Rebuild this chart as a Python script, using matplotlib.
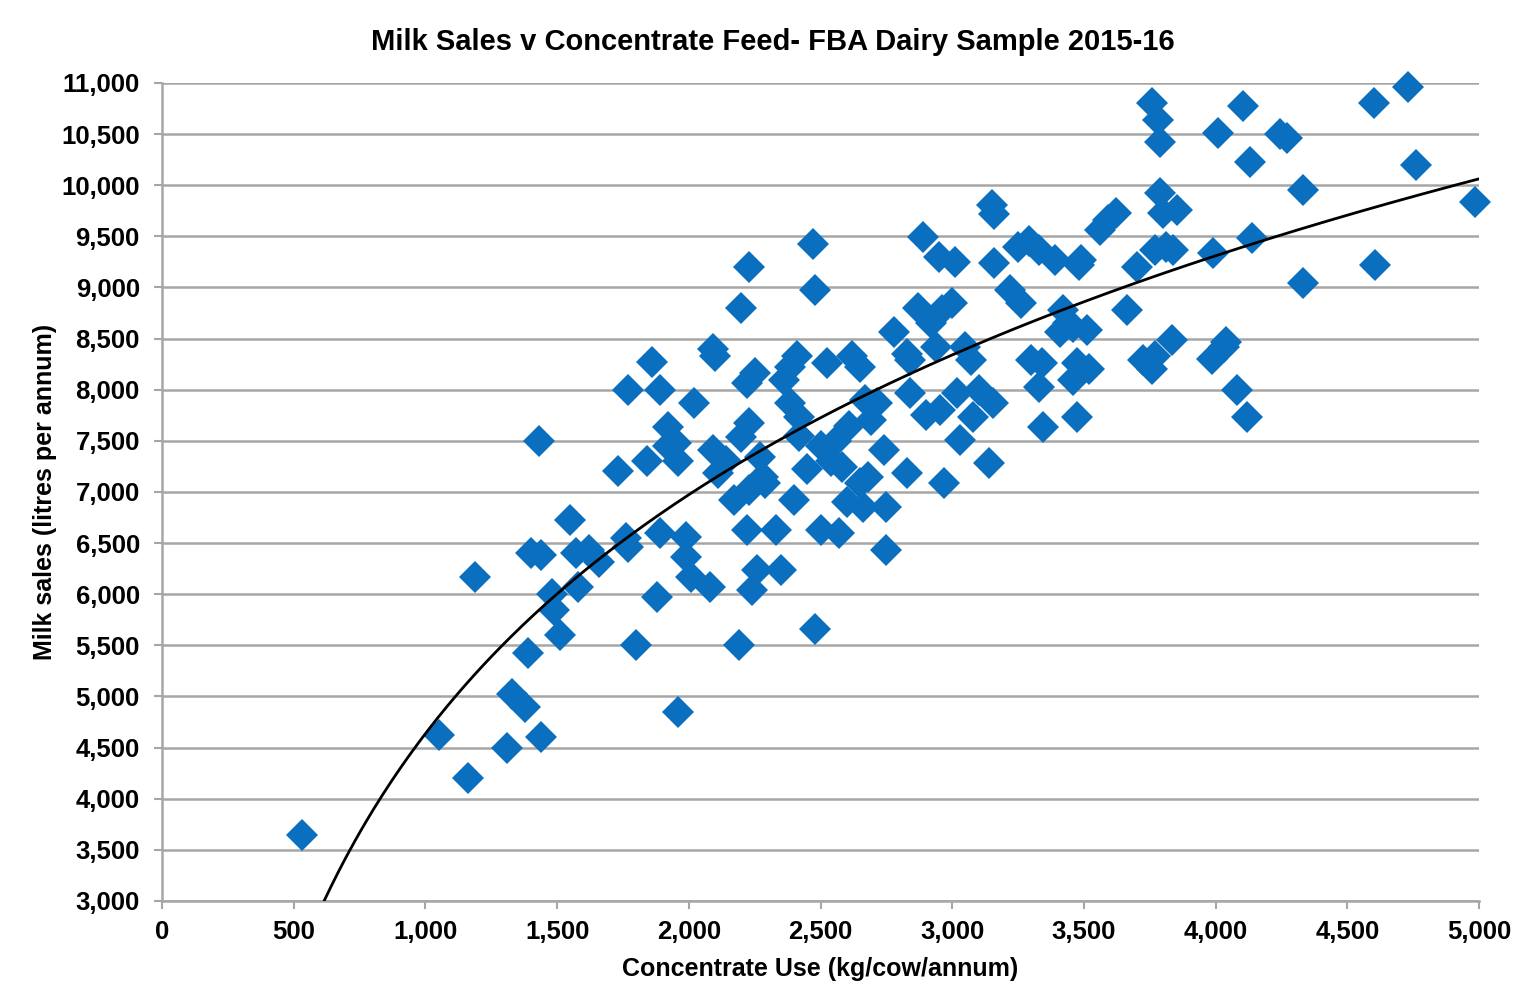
import numpy as np
import matplotlib.pyplot as plt
from matplotlib.ticker import FuncFormatter, MultipleLocator

plt.rcParams['font.family'] = ['Liberation Sans', 'DejaVu Sans']

# concentrate use (kg/cow/annum) and milk sales (litres/annum) per farm
concentrate = [
    530, 1050, 1160, 1190, 1310, 1330, 1380, 1440, 1390, 1430,
    1400, 1440, 1480, 1490, 1510, 1550, 1570, 1580, 1620, 1660,
    1730, 1760, 1770, 1770, 1800, 1840, 1860, 1880, 1890, 1890,
    1920, 1920, 1950, 1960, 1960, 1990, 1990, 2010, 2020, 2080,
    2090, 2100, 2090, 2110, 2140, 2170, 2190, 2200, 2200, 2220,
    2230, 2220, 2230, 2240, 2260, 2250, 2230, 2270, 2280, 2290,
    2330, 2350, 2360, 2385, 2385, 2400, 2410, 2420, 2420, 2470,
    2480, 2480, 2450, 2500, 2500, 2525, 2540, 2560, 2570, 2580,
    2600, 2610, 2620, 2650, 2650, 2660, 2670, 2680, 2690, 2715,
    2740, 2750, 2750, 2780, 2830, 2830, 2840, 2840, 2870, 2890,
    2900, 2920, 2940, 2950, 2955, 2970, 2960, 3000, 3010, 3020,
    3030, 3050, 3070, 3080, 3100, 3150, 3155, 3160, 3140, 3160,
    3220, 3250, 3260, 3290, 3300, 3330, 3330, 3345, 3340, 3390,
    3410, 3420, 3440, 3460, 3460, 3474, 3474, 3480, 3490, 3510,
    3520, 3560, 3590, 3620, 3665, 3700, 3725, 3760, 3760, 3770,
    3770, 3780, 3790, 3790, 3800, 3810, 3840, 3855, 3835, 3985,
    3990, 4010, 4030, 4040, 4080, 4105, 4120, 4130, 4140, 4245,
    4270, 4330, 4330, 4600, 4605, 4730, 4760, 4985,
]
milk_sales = [
    3650, 4620, 4200, 6170, 4500, 5020, 4900, 4600, 5430, 7500,
    6400, 6380, 6000, 5850, 5600, 6730, 6400, 6070, 6430, 6320,
    7210, 6550, 8000, 6460, 5500, 7300, 8270, 5970, 8000, 6600,
    7450, 7640, 7480, 4850, 7300, 6560, 6360, 6170, 7870, 6070,
    8400, 8330, 7410, 7190, 7300, 6920, 5500, 7540, 8800, 8070,
    9200, 6630, 7020, 6040, 6240, 8160, 7670, 7340, 7150, 7090,
    6630, 6240, 8100, 8220, 7870, 6920, 8330, 7730, 7550, 9430,
    8980, 5660, 7220, 7450, 6630, 8260, 7300, 7500, 6600, 7240,
    6900, 7650, 8330, 7090, 8220, 6850, 7900, 7150, 7700, 7870,
    7410, 6850, 6430, 8560, 8350, 7190, 7970, 8290, 8800, 9490,
    7750, 8650, 8420, 9300, 7800, 7090, 8780, 8850, 9250, 7970,
    7510, 8420, 8290, 7730, 8000, 9810, 7870, 9720, 7280, 9240,
    8980, 9400, 8850, 9450, 8290, 8030, 9370, 7640, 8260, 9270,
    8560, 8780, 8650, 8610, 8100, 7730, 8260, 9220, 9270, 8580,
    8200, 9560, 9660, 9730, 8780, 9200, 8290, 10800, 8200, 8330,
    9370, 10640, 10420, 9920, 9730, 9400, 9370, 9760, 8490, 8300,
    9340, 10510, 8420, 8470, 8000, 10770, 7730, 10230, 9480, 10500,
    10460, 9040, 9950, 10800, 9220, 10960, 10200, 9840,
]

x = np.array(concentrate, dtype=float)
y = np.array(milk_sales, dtype=float)

# logarithmic trendline, y = a*ln(x) + b
a, b = np.polyfit(np.log(x), y, 1)
xs = np.linspace(400, 5000, 400)
ys = a * np.log(xs) + b

fig = plt.figure(figsize=(15.21, 10.02), dpi=100)
ax = fig.add_axes([0.1065, 0.1008, 0.8659, 0.8164])

ax.plot(x, y, linestyle='none', marker='D', markersize=16.5,
        color='#0B6FC0', markeredgewidth=0, zorder=3, clip_on=False)
ax.plot(xs, ys, color='black', linewidth=2.0, zorder=4)

ax.set_xlim(0, 5000)
ax.set_ylim(3000, 11000)
ax.xaxis.set_major_locator(MultipleLocator(500))
ax.yaxis.set_major_locator(MultipleLocator(500))
fmt = FuncFormatter(lambda v, p: f'{int(v):,}')
ax.xaxis.set_major_formatter(fmt)
ax.yaxis.set_major_formatter(fmt)

ax.grid(axis='y', color='#a6a6a6', linewidth=1.8, zorder=0)
ax.set_axisbelow(True)
for side in ('top', 'right'):
    ax.spines[side].set_visible(False)
for side in ('left', 'bottom'):
    ax.spines[side].set_color('#a6a6a6')
    ax.spines[side].set_linewidth(1.8)

ax.tick_params(axis='both', direction='out', length=6, width=1.5,
               color='#a6a6a6', labelsize=18.5)
ax.tick_params(axis='y', pad=10)
ax.tick_params(axis='x', pad=8)
for lab in ax.get_xticklabels() + ax.get_yticklabels():
    lab.set_fontweight('bold')

fig.text(0.508, 0.958, 'Milk Sales v Concentrate Feed- FBA Dairy Sample 2015-16',
         ha='center', va='center', fontsize=21, fontweight='bold')
ax.set_xlabel('Concentrate Use (kg/cow/annum)', fontsize=18,
              fontweight='bold', labelpad=9)
ax.set_ylabel('Milk sales (litres per annum)', fontsize=18,
              fontweight='bold', labelpad=3)

fig.savefig('out.png', dpi=100)
